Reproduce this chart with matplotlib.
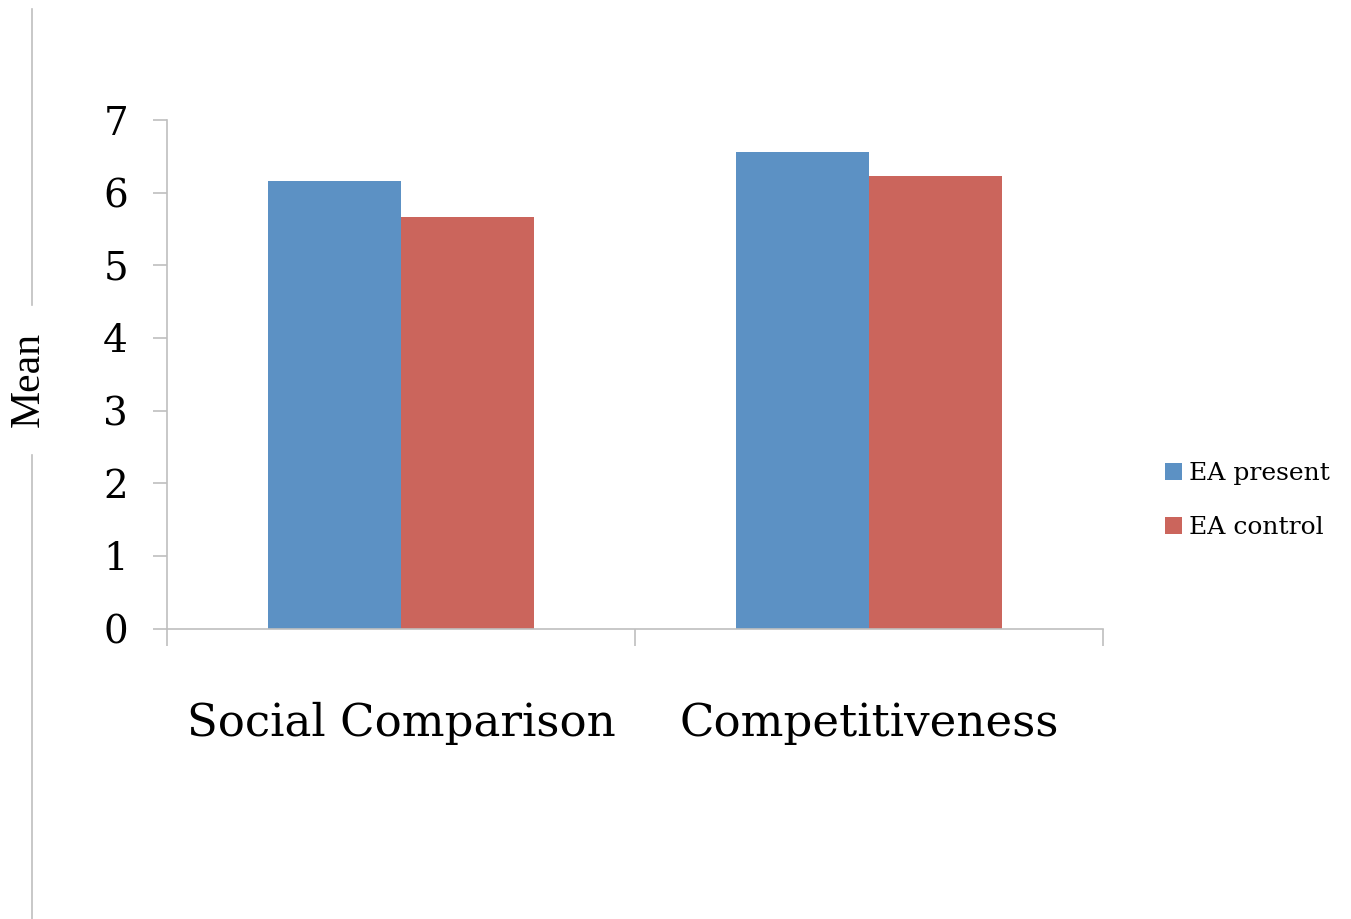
import matplotlib
matplotlib.use("Agg")
import matplotlib.pyplot as plt
from matplotlib.lines import Line2D
import numpy as np

# data
categories = ["Social Comparison", "Competitiveness"]
series_names = ["EA present", "EA control"]
ea_present = [6.16, 6.56]
ea_control = [5.67, 6.23]
y_ticks = [0, 1, 2, 3, 4, 5, 6, 7]

blue = "#5C91C4"
red = "#CB655C"
grey = "#BFBFBF"
serif = "DejaVu Serif"

fig = plt.figure(figsize=(13.51, 9.19), dpi=100)
ax = fig.add_axes([0.1236, 0.316, 0.6929, 0.5534])

x = np.arange(len(categories))
w = 0.285
ax.bar(x - w / 2, ea_present, w, color=blue, label=series_names[0])
ax.bar(x + w / 2, ea_control, w, color=red, label=series_names[1])

ax.set_xlim(-0.5, 1.5)
ax.set_ylim(0, 7)

for s in ["top", "right"]:
    ax.spines[s].set_visible(False)
ax.spines["left"].set_color(grey)
ax.spines["bottom"].set_color(grey)
ax.spines["left"].set_linewidth(1.2)
ax.spines["bottom"].set_linewidth(1.2)

ax.set_yticks(y_ticks)
ax.set_yticklabels([str(t) for t in y_ticks], fontfamily=serif, fontsize=28)
ax.tick_params(axis="y", length=10, width=1.2, color=grey, pad=18)

# boundary ticks between categories, labels in the middle
ax.set_xticks([-0.5, 0.5, 1.5])
ax.set_xticklabels(["", "", ""])
ax.tick_params(axis="x", which="major", length=12, width=1.2, color=grey)
ax.set_xticks(x, minor=True)
ax.set_xticklabels(categories, minor=True, fontfamily=serif, fontsize=32.5)
ax.tick_params(axis="x", which="minor", length=0, pad=53)

leg = ax.legend(loc="center left", bbox_to_anchor=(0.846, 0.455),
                bbox_transform=fig.transFigure, frameon=False,
                prop={"family": serif, "size": 18}, handlelength=0.65,
                handleheight=0.65, handletextpad=0.3, labelspacing=1.25)

# thin grey line on the left, broken by the y label
fig.add_artist(Line2D([0.0237, 0.0237], [0.0, 0.505], color=grey, lw=1.2))
fig.add_artist(Line2D([0.0237, 0.0237], [0.668, 0.99], color=grey, lw=1.2))
fig.text(0.021, 0.587, "Mean", rotation=90, ha="center", va="center",
         fontfamily="Liberation Serif", fontsize=30)

fig.savefig("out.png", dpi=100)
